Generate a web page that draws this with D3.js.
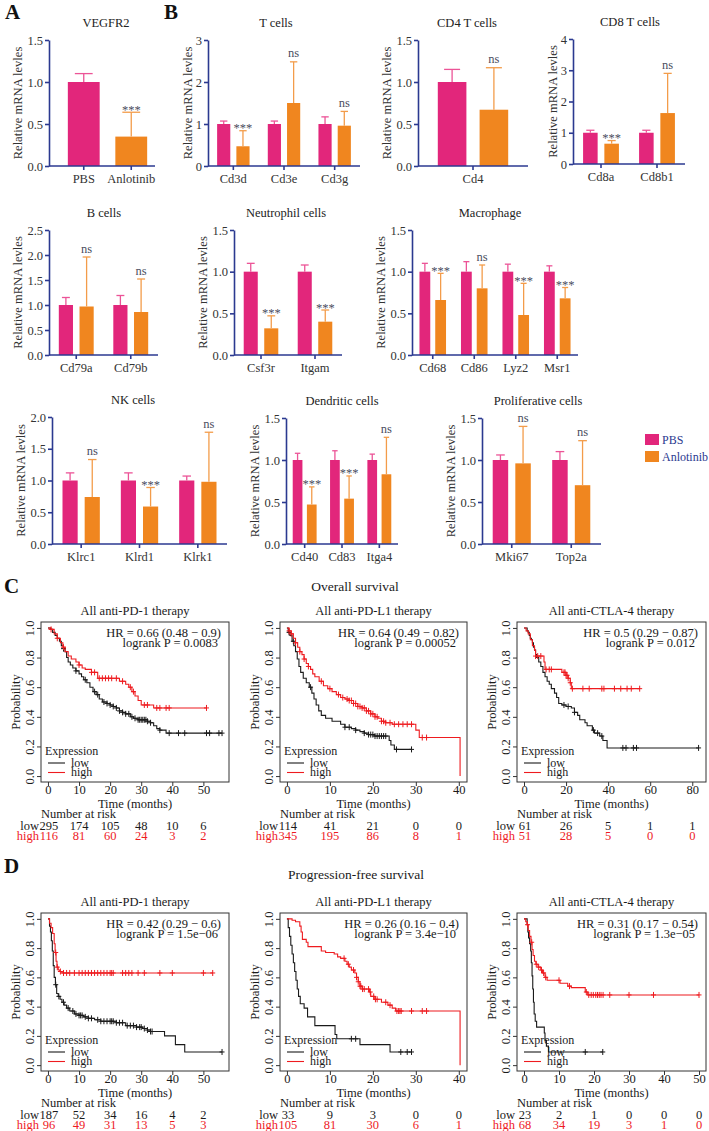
<!DOCTYPE html>
<html lang="en">
<head>
<meta charset="utf-8">
<title>Anlotinib: immune markers and ICI survival</title>
<script src="https://d3js.org/d3.v7.min.js"></script>
<style>
  body { margin: 0; background: #fff; }
  text { font-family: "Liberation Serif", "Times New Roman", serif; }
</style>
</head>
<body>
<div id="mainDiv"></div>
<script>
const width = 709
const height = 1131

const pink = '#e2267b'
const orange = '#f0861f'
const pinkErr = '#ec5497'
const orangeErr = '#f39c4a'
const navy = '#2b3990'
const kmRed = '#ee1b1f'

// ---------- qPCR bars (mean, upper error) ----------
const vegfrCats = ['PBS', 'Anlotinib']
const vegfrMean = [1.0, 0.35]
const vegfrErr = [1.1, 0.64]
const vegfrSig = ['', '***']

const tGenes = ['Cd3d', 'Cd3e', 'Cd3g']
const tPbs = [1, 1, 1]
const tPbsErr = [1.07, 1.07, 1.17]
const tAnl = [0.47, 1.5, 0.96]
const tAnlErr = [0.84, 2.48, 1.3]
const tSig = ['***', 'ns', 'ns']

const cd4Genes = ['Cd4']
const cd4Pbs = [1]
const cd4PbsErr = [1.15]
const cd4Anl = [0.67]
const cd4AnlErr = [1.17]
const cd4Sig = ['ns']

const cd8Genes = ['Cd8a', 'Cd8b1']
const cd8Pbs = [1, 1]
const cd8PbsErr = [1.08, 1.08]
const cd8Anl = [0.65, 1.63]
const cd8AnlErr = [0.75, 2.9]
const cd8Sig = ['***', 'ns']

const bGenes = ['Cd79a', 'Cd79b']
const bPbs = [1, 1]
const bPbsErr = [1.15, 1.19]
const bAnl = [0.97, 0.86]
const bAnlErr = [1.96, 1.52]
const bSig = ['ns', 'ns']

const neuGenes = ['Csf3r', 'Itgam']
const neuPbs = [1, 1]
const neuPbsErr = [1.1, 1.08]
const neuAnl = [0.32, 0.4]
const neuAnlErr = [0.47, 0.54]
const neuSig = ['***', '***']

const macGenes = ['Cd68', 'Cd86', 'Lyz2', 'Msr1']
const macPbs = [1, 1, 1, 1]
const macPbsErr = [1.1, 1.12, 1.09, 1.07]
const macAnl = [0.66, 0.8, 0.48, 0.68]
const macAnlErr = [0.98, 1.08, 0.86, 0.81]
const macSig = ['***', 'ns', '***', '***']

const nkGenes = ['Klrc1', 'Klrd1', 'Klrk1']
const nkPbs = [1, 1, 1]
const nkPbsErr = [1.12, 1.12, 1.07]
const nkAnl = [0.74, 0.59, 0.98]
const nkAnlErr = [1.33, 0.89, 1.76]
const nkSig = ['ns', '***', 'ns']

const dcGenes = ['Cd40', 'Cd83', 'Itga4']
const dcPbs = [1, 1, 1]
const dcPbsErr = [1.08, 1.11, 1.07]
const dcAnl = [0.47, 0.54, 0.83]
const dcAnlErr = [0.68, 0.81, 1.27]
const dcSig = ['***', '***', 'ns']

const proGenes = ['Mki67', 'Top2a']
const proPbs = [1, 1]
const proPbsErr = [1.06, 1.1]
const proAnl = [0.96, 0.7]
const proAnlErr = [1.4, 1.23]
const proSig = ['ns', 'ns']

// ---------- Kaplan-Meier steps [time, survival] and censor times ----------
const osPd1Low = [[0,1],[0.8,0.99],[1.5,0.97],[2.3,0.95],[3,0.93],[3.7,0.91],[4.3,0.88],[5,0.86],[5.5,0.84],[6,0.8],[6.5,0.77],[7.2,0.75],[8,0.73],[9,0.71],[10,0.69],[10.8,0.67],[11.5,0.65],[12.5,0.63],[13.5,0.6],[14.5,0.57],[15.5,0.55],[16.5,0.52],[17.5,0.5],[19,0.49],[20,0.48],[21,0.47],[22,0.46],[23,0.44],[24,0.43],[25,0.42],[26.5,0.4],[27.5,0.39],[29,0.38],[32,0.37],[33,0.36],[34,0.34],[35,0.32],[36,0.31],[38,0.29],[56,0.29]]
const osPd1LowCens = [5, 9, 12, 15, 16, 18, 19, 20, 21, 22, 23, 24, 25, 26, 27, 28, 29, 29.5, 30, 30.5, 31, 31.5, 32, 33, 36, 39, 42, 44, 51, 52, 55, 56]
const osPd1High = [[0,1],[1,0.99],[2,0.96],[3,0.93],[4,0.9],[4.8,0.87],[5.5,0.84],[6.5,0.81],[7.5,0.79],[9,0.77],[10,0.75],[11,0.73],[12,0.72],[14,0.7],[16,0.66],[23,0.64],[25,0.62],[26,0.6],[27,0.57],[28,0.54],[29,0.51],[30,0.48],[34,0.46],[51,0.46]]
const osPd1HighCens = [1, 3, 5, 10, 14, 15, 16.5, 17.5, 18.5, 19.5, 20.5, 22, 24, 26.5, 27.5, 31, 32, 35, 36, 38, 39, 51]

const osPdl1Low = [[0,1],[0.3,0.97],[0.7,0.95],[1.2,0.91],[1.6,0.88],[2,0.84],[2.4,0.79],[2.8,0.74],[3.2,0.7],[3.8,0.66],[4.5,0.63],[5.2,0.6],[5.8,0.56],[6.3,0.52],[6.8,0.48],[7.4,0.44],[8,0.41],[9,0.39],[10.5,0.37],[12.5,0.35],[13.5,0.33],[15,0.32],[16,0.31],[17,0.3],[18,0.29],[19,0.28],[20.3,0.27],[23.8,0.24],[24.2,0.21],[25,0.18],[29,0.18]]
const osPdl1LowCens = [0.5, 1.5, 5.5, 13.5, 14.5, 16, 18, 19, 19.5, 20, 20.5, 21, 21.5, 22, 22.5, 23, 25.5, 29]
const osPdl1High = [[0,1],[0.5,0.98],[1,0.96],[1.5,0.93],[2,0.9],[2.5,0.87],[3,0.84],[3.5,0.82],[4,0.79],[4.5,0.76],[5,0.74],[5.5,0.72],[6,0.69],[6.5,0.67],[7.5,0.64],[8.5,0.61],[9.5,0.59],[10.5,0.57],[11.5,0.55],[12.5,0.53],[13.5,0.52],[14.5,0.51],[15.5,0.49],[16.5,0.47],[17.5,0.46],[18.5,0.44],[19.5,0.42],[20.5,0.4],[21.2,0.39],[22,0.37],[23,0.36],[24.5,0.35],[30,0.31],[30.8,0.26],[40.3,0]]
const osPdl1HighCens = [0.5, 1, 2, 3, 4, 5, 8, 10, 12, 13, 14, 14.5, 15, 15.5, 16, 16.5, 17, 17.5, 18, 18.5, 19, 19.5, 20, 20.5, 21, 22, 22.5, 23, 24, 25, 26, 27, 28, 29, 31.5, 32.5]

const osCtlaLow = [[0,1],[1.5,0.98],[2,0.97],[2.5,0.95],[3,0.93],[3.5,0.92],[4,0.9],[4.5,0.87],[5,0.85],[5.5,0.82],[6,0.8],[7,0.77],[8,0.74],[9,0.7],[10,0.67],[11,0.64],[12,0.62],[13,0.59],[14.5,0.56],[15.5,0.53],[16.5,0.49],[18,0.48],[20,0.47],[22.5,0.46],[24,0.43],[25.5,0.41],[26.5,0.38],[29,0.36],[30,0.34],[32.5,0.31],[33.5,0.29],[36,0.27],[37.5,0.24],[39.5,0.19],[83,0.19]]
const osCtlaLowCens = [19, 21, 24, 33, 35, 37, 47, 48.5, 52, 53.5, 83]
const osCtlaHigh = [[0,1],[1,0.98],[2,0.96],[3,0.92],[4,0.88],[5,0.85],[5.5,0.81],[9.5,0.77],[10,0.72],[18,0.7],[20,0.68],[21,0.66],[22,0.63],[22.5,0.59],[55,0.59]]
const osCtlaHighCens = [5.5, 6.5, 8, 10.5, 12, 13, 19, 19.5, 20, 20.5, 21, 22, 23, 28, 31, 37, 38, 43, 46, 49, 51, 55]

const pfsPd1Low = [[0,1],[0.5,0.95],[0.8,0.91],[1.1,0.85],[1.4,0.78],[1.7,0.68],[2,0.6],[2.4,0.55],[2.8,0.49],[3.3,0.47],[3.9,0.45],[4.5,0.43],[5.2,0.41],[6,0.39],[7,0.37],[8.5,0.35],[10,0.34],[11.5,0.33],[13,0.32],[15,0.31],[17,0.3],[22,0.29],[25,0.27],[28.5,0.26],[30.5,0.25],[32,0.24],[33,0.23],[37.5,0.2],[41,0.14],[44,0.09],[56,0.09]]
const pfsPd1LowCens = [2.5, 3.5, 5, 6.5, 8, 9, 10, 10.5, 11, 12, 13, 14, 16, 17, 18, 19, 20, 20.5, 21, 22, 23, 24, 25.5, 26.5, 27.5, 28.5, 29.5, 30, 31, 32, 33, 33.5, 56]
const pfsPd1High = [[0,1],[0.5,0.97],[1,0.94],[1.5,0.9],[2,0.83],[2.3,0.77],[2.6,0.71],[2.9,0.67],[3.3,0.65],[3.8,0.64],[4.5,0.63],[53,0.63]]
const pfsPd1HighCens = [2.5, 3, 4, 5, 6, 7, 8.5, 10, 11, 12, 13, 14, 15, 16, 17, 18, 19, 20, 20.5, 21, 24, 25, 26, 27, 29, 31, 36, 40, 50, 53]

const pfsPdl1Low = [[0,1],[0.3,0.94],[0.6,0.88],[0.9,0.82],[1.2,0.76],[1.5,0.7],[1.8,0.64],[2.1,0.58],[2.4,0.52],[2.7,0.47],[3.1,0.42],[4,0.39],[4.8,0.33],[6.5,0.27],[11.2,0.21],[11.6,0.18],[17,0.14],[24,0.09],[29,0.09]]
const pfsPdl1LowCens = [15, 16, 26.5, 28, 29]
const pfsPdl1High = [[0,1],[1.2,0.99],[2,0.98],[3,0.95],[3.3,0.91],[3.6,0.86],[4.5,0.84],[4.9,0.81],[8,0.78],[9,0.77],[11,0.76],[11.8,0.74],[12.5,0.73],[13.5,0.71],[14,0.69],[14.5,0.67],[15,0.65],[15.8,0.63],[16.2,0.6],[16.6,0.57],[17,0.54],[17.5,0.52],[19.2,0.5],[19.5,0.47],[20.3,0.45],[22,0.43],[23.5,0.41],[24.5,0.39],[25.3,0.37],[40.3,0]]
const pfsPdl1HighCens = [13.3, 14.3, 15.5, 16.2, 16.6, 17, 17.2, 17.6, 18, 19, 19.4, 20.2, 20.6, 21, 23, 24, 25.6, 26, 26.3, 26.6, 29, 31.5, 32.5]

const pfsCtlaLow = [[0,1],[0.9,0.96],[1.1,0.91],[1.3,0.87],[1.6,0.83],[1.9,0.78],[2.1,0.7],[2.3,0.61],[2.5,0.52],[2.7,0.43],[2.9,0.35],[3.2,0.3],[3.6,0.26],[5.8,0.22],[6,0.17],[6.4,0.13],[7,0.09],[22.5,0.09]]
const pfsCtlaLowCens = [17.5, 22.5]
const pfsCtlaHigh = [[0,1],[0.5,0.98],[0.9,0.96],[1.2,0.92],[1.6,0.88],[2,0.84],[2.3,0.79],[2.6,0.75],[3,0.71],[3.4,0.69],[4,0.67],[4.8,0.65],[5.3,0.63],[6,0.6],[6.6,0.58],[10.3,0.56],[12.5,0.54],[13.5,0.53],[17.5,0.5],[18.2,0.48],[50,0.48]]
const pfsCtlaHighCens = [1, 2.2, 3.5, 4.2, 5, 5.6, 6.2, 10, 13, 17.8, 18.5, 19.2, 19.8, 20.5, 21, 21.5, 22, 22.6, 24.5, 30, 37, 50]

// numbers at risk
const osPd1RiskLow = [295, 174, 105, 48, 10, 6]
const osPd1RiskHigh = [116, 81, 60, 24, 3, 2]
const osPdl1RiskLow = [114, 41, 21, 0, 0]
const osPdl1RiskHigh = [345, 195, 86, 8, 1]
const osCtlaRiskLow = [61, 26, 5, 1, 1]
const osCtlaRiskHigh = [51, 28, 5, 0, 0]
const pfsPd1RiskLow = [187, 52, 34, 16, 4, 2]
const pfsPd1RiskHigh = [96, 49, 31, 13, 5, 3]
const pfsPdl1RiskLow = [33, 9, 3, 0, 0]
const pfsPdl1RiskHigh = [105, 81, 30, 6, 1]
const pfsCtlaRiskLow = [23, 2, 1, 0, 0, 0]
const pfsCtlaRiskHigh = [68, 34, 19, 3, 1, 0]

const ticks0to50 = [0, 10, 20, 30, 40, 50]
const ticks0to40 = [0, 10, 20, 30, 40]
const ticks0to80 = [0, 20, 40, 60, 80]

const svg = d3.select('#mainDiv').append('svg')
    .attr('width', width)
    .attr('height', height)

// ---------- bar panel ----------
function barPanel(p) {
    const y = d3.scaleLinear().domain([0, p.yMax]).range([p.bottom, p.top])
    const x = d3.scaleBand().domain(p.genes).range([p.x0 || p.ax, p.xEnd])
    const bw = x.bandwidth()
    const barW = bw * (p.single ? 0.67 : 0.26)
    const gap = bw * 0.12
    const g = svg.append('g')

    g.append('text')
        .attr('x', p.titleX).attr('y', p.top - 13)
        .attr('text-anchor', 'middle').attr('font-size', 12.5).attr('fill', '#222')
        .text(p.title)

    const rows = p.genes.flatMap((gn, i) => p.single
        ? [{ gn, mean: p.pbs[i], err: p.pbsErr[i], sig: p.sig[i], fill: i === 0 ? pink : orange, ec: i === 0 ? pinkErr : orangeErr, off: -barW / 2 }]
        : [{ gn, mean: p.pbs[i], err: p.pbsErr[i], sig: '', fill: pink, ec: pinkErr, off: -gap / 2 - barW },
           { gn, mean: p.anl[i], err: p.anlErr[i], sig: p.sig[i], fill: orange, ec: orangeErr, off: gap / 2 }])
    const cx = d => x(d.gn) + bw / 2 + d.off + barW / 2

    g.selectAll('rect.bar').data(rows).enter().append('rect')
        .attr('x', d => cx(d) - barW / 2)
        .attr('y', d => y(d.mean))
        .attr('width', barW)
        .attr('height', d => y(0) - y(d.mean))
        .attr('fill', d => d.fill)

    g.selectAll('line.err').data(rows).enter().append('line')
        .attr('x1', cx).attr('x2', cx)
        .attr('y1', d => y(d.mean)).attr('y2', d => y(d.err))
        .attr('stroke', d => d.ec).attr('stroke-width', 1.3)
    g.selectAll('line.cap').data(rows).enter().append('line')
        .attr('x1', d => cx(d) - barW * 0.28).attr('x2', d => cx(d) + barW * 0.28)
        .attr('y1', d => y(d.err)).attr('y2', d => y(d.err))
        .attr('stroke', d => d.ec).attr('stroke-width', 1.3)

    g.selectAll('text.sig').data(rows.filter(d => d.sig)).enter().append('text')
        .attr('x', cx)
        .attr('y', d => y(d.err) + (d.sig === '***' ? 1.5 : -4.5))
        .attr('text-anchor', 'middle').attr('font-size', 12.5).attr('fill', '#4a4d5e')
        .text(d => d.sig)

    const yAxis = g.append('g')
        .attr('transform', `translate(${p.ax},0)`)
        .call(d3.axisLeft(y).tickValues(p.ticks).tickFormat(d3.format(p.fmt)).tickSize(4).tickPadding(2).tickSizeOuter(0))
    const xAxis = g.append('g')
        .attr('transform', `translate(0,${y(0)})`)
        .call(d3.axisBottom(x).tickSize(4).tickPadding(4).tickSizeOuter(0))
    xAxis.select('.domain').remove()
    g.append('line')
        .attr('x1', p.ax).attr('x2', p.xEnd).attr('y1', y(0)).attr('y2', y(0))
        .attr('stroke', navy).attr('stroke-width', 1.6)
    for (const ax of [yAxis, xAxis]) {
        ax.selectAll('path, line').attr('stroke', navy).attr('stroke-width', 1.6)
        ax.selectAll('text').attr('font-size', 12.5).attr('fill', '#333')
            .attr('font-family', '"Liberation Serif", serif')
    }

    const maxLen = d3.max(p.ticks, t => d3.format(p.fmt)(t).length)
    const tx = p.ax - (5.5 * maxLen + 11)
    g.append('text')
        .attr('transform', `translate(${tx},${(p.top + p.bottom) / 2}) rotate(-90)`)
        .attr('text-anchor', 'middle').attr('font-size', 12.5).attr('fill', '#333')
        .text('Relative mRNA levles')
}

const rowTop = [40, 230, 418]
const rowBottom = [166, 355, 544]
const half = [0, 0.5, 1, 1.5]

barPanel({ title: 'VEGFR2', titleX: 106, genes: vegfrCats, pbs: vegfrMean, pbsErr: vegfrErr, sig: vegfrSig, single: true,
    ax: 49, x0: 60, xEnd: 155, top: rowTop[0], bottom: rowBottom[0], yMax: 1.5, ticks: half, fmt: '.1f' })
barPanel({ title: 'T cells', titleX: 276, genes: tGenes, pbs: tPbs, pbsErr: tPbsErr, anl: tAnl, anlErr: tAnlErr, sig: tSig,
    ax: 208, xEnd: 360, top: rowTop[0], bottom: rowBottom[0], yMax: 3, ticks: [0, 1, 2, 3], fmt: 'd' })
barPanel({ title: 'CD4 T cells', titleX: 467, genes: cd4Genes, pbs: cd4Pbs, pbsErr: cd4PbsErr, anl: cd4Anl, anlErr: cd4AnlErr, sig: cd4Sig,
    ax: 418, xEnd: 528, top: rowTop[0], bottom: rowBottom[0], yMax: 1.5, ticks: half, fmt: '.1f' })
barPanel({ title: 'CD8 T cells', titleX: 630, genes: cd8Genes, pbs: cd8Pbs, pbsErr: cd8PbsErr, anl: cd8Anl, anlErr: cd8AnlErr, sig: cd8Sig,
    ax: 573, xEnd: 685, top: rowTop[0] - 1, bottom: rowBottom[0] - 2, yMax: 4, ticks: [0, 1, 2, 3, 4], fmt: 'd' })

barPanel({ title: 'B cells', titleX: 104, genes: bGenes, pbs: bPbs, pbsErr: bPbsErr, anl: bAnl, anlErr: bAnlErr, sig: bSig,
    ax: 49, xEnd: 158, top: rowTop[1], bottom: rowBottom[1], yMax: 2.5, ticks: [0, 0.5, 1, 1.5, 2, 2.5], fmt: '.1f' })
barPanel({ title: 'Neutrophil cells', titleX: 286, genes: neuGenes, pbs: neuPbs, pbsErr: neuPbsErr, anl: neuAnl, anlErr: neuAnlErr, sig: neuSig,
    ax: 234, xEnd: 342, top: rowTop[1], bottom: rowBottom[1], yMax: 1.5, ticks: half, fmt: '.1f' })
barPanel({ title: 'Macrophage', titleX: 490, genes: macGenes, pbs: macPbs, pbsErr: macPbsErr, anl: macAnl, anlErr: macAnlErr, sig: macSig,
    ax: 412, xEnd: 578, top: rowTop[1], bottom: rowBottom[1], yMax: 1.5, ticks: half, fmt: '.1f' })

barPanel({ title: 'NK cells', titleX: 133, genes: nkGenes, pbs: nkPbs, pbsErr: nkPbsErr, anl: nkAnl, anlErr: nkAnlErr, sig: nkSig,
    ax: 52, xEnd: 227, top: rowTop[2] - 1, bottom: rowBottom[2], yMax: 2, ticks: [0, 0.5, 1, 1.5, 2], fmt: '.1f' })
barPanel({ title: 'Dendritic cells', titleX: 342, genes: dcGenes, pbs: dcPbs, pbsErr: dcPbsErr, anl: dcAnl, anlErr: dcAnlErr, sig: dcSig,
    ax: 286, xEnd: 398, top: rowTop[2], bottom: rowBottom[2], yMax: 1.5, ticks: half, fmt: '.1f' })
barPanel({ title: 'Proliferative cells', titleX: 538, genes: proGenes, pbs: proPbs, pbsErr: proPbsErr, anl: proAnl, anlErr: proAnlErr, sig: proSig,
    ax: 482, xEnd: 601, top: rowTop[2], bottom: rowBottom[2], yMax: 1.5, ticks: half, fmt: '.1f' })

// bar legend
const legendItems = [['PBS', pink], ['Anlotinib', orange]]
const legend = svg.append('g').attr('transform', 'translate(645,434)')
legend.selectAll('rect').data(legendItems).enter().append('rect')
    .attr('x', 0).attr('y', (d, i) => i * 17).attr('width', 14).attr('height', 11)
    .attr('fill', d => d[1])
legend.selectAll('text').data(legendItems).enter().append('text')
    .attr('x', 17).attr('y', (d, i) => i * 17 + 10)
    .attr('font-size', 12).attr('fill', '#2b3990')
    .text(d => d[0])

// ---------- Kaplan-Meier panel ----------
function kmPanel(o) {
    const x = d3.scaleLinear().domain([-0.04 * o.xMax, 1.04 * o.xMax]).range([o.left, o.right])
    const y = d3.scaleLinear().domain([-0.04, 1.04]).range([o.bottom, o.top])
    const g = svg.append('g')
    const ink = '#1a1a1a'

    g.append('text')
        .attr('x', (o.left + o.right) / 2).attr('y', o.top - 7)
        .attr('text-anchor', 'middle').attr('font-size', 12.5).attr('fill', ink)
        .text(o.title)

    const line = d3.line().x(d => x(d[0])).y(d => y(d[1])).curve(d3.curveStepAfter)
    const bis = d3.bisector(d => d[0]).right
    const curves = [[o.low, o.lowCens, ink], [o.high, o.highCens, kmRed]]
    curves.forEach(([steps, cens, col]) => {
        g.append('path').attr('d', line(steps))
            .attr('fill', 'none').attr('stroke', col).attr('stroke-width', 1.1)
        const marks = cens.map(c => [c, steps[Math.max(0, bis(steps, c) - 1)][1]])
        g.selectAll(null).data(marks).enter().append('path')
            .attr('d', d => `M${x(d[0])},${y(d[1]) - 3}v6M${x(d[0]) - 2.5},${y(d[1])}h5`)
            .attr('stroke', col).attr('stroke-width', 1)
    })

    g.append('rect')
        .attr('x', o.left).attr('y', o.top)
        .attr('width', o.right - o.left).attr('height', o.bottom - o.top)
        .attr('fill', 'none').attr('stroke', '#333').attr('stroke-width', 1)

    const xAxis = g.append('g').attr('transform', `translate(0,${o.bottom})`)
        .call(d3.axisBottom(x).tickValues(o.xTicks).tickFormat(d3.format('d')).tickSize(4).tickSizeOuter(0))
    xAxis.select('.domain').remove()
    xAxis.selectAll('text').attr('y', 12).attr('dy', 0)
    const yAxis = g.append('g').attr('transform', `translate(${o.left},0)`)
        .call(d3.axisLeft(y).tickValues([0, 0.2, 0.4, 0.6, 0.8, 1]).tickFormat(d3.format('.1f')).tickSize(4).tickSizeOuter(0))
    yAxis.select('.domain').remove()
    yAxis.selectAll('text')
        .attr('x', 0).attr('y', -7).attr('dy', 0)
        .attr('text-anchor', 'middle').attr('transform', 'rotate(-90)')
    for (const ax of [xAxis, yAxis]) {
        ax.selectAll('line').attr('stroke', '#333')
        ax.selectAll('text').attr('font-size', 12.5).attr('fill', ink)
            .attr('font-family', '"Liberation Serif", serif')
    }

    g.append('text')
        .attr('transform', `translate(${o.left - 21},${(y(0) + y(1)) / 2}) rotate(-90)`)
        .attr('text-anchor', 'middle').attr('font-size', 12.5).attr('fill', ink)
        .text('Probability')

    g.append('text').attr('x', o.right - 8).attr('y', o.top + 14.5)
        .attr('text-anchor', 'end').attr('font-size', 12.5).attr('fill', ink).text(o.hr)
    g.append('text').attr('x', o.right - 11).attr('y', o.top + 25)
        .attr('text-anchor', 'end').attr('font-size', 12.5).attr('fill', ink).text(o.p)

    // legend
    g.append('text').attr('x', o.left + 4).attr('y', o.bottom - 27.5)
        .attr('font-size', 12).attr('fill', ink).text('Expression')
    const leg = [['low', ink, o.bottom - 19], ['high', kmRed, o.bottom - 9.5]]
    leg.forEach(([lab, col, ly]) => {
        g.append('line').attr('x1', o.left + 7).attr('x2', o.left + 24)
            .attr('y1', ly).attr('y2', ly).attr('stroke', col).attr('stroke-width', 1.1)
        g.append('text').attr('x', o.left + 30).attr('y', ly + 3.5)
            .attr('font-size', 12).attr('fill', ink).text(lab)
    })

    g.append('text').attr('x', (o.left + o.right) / 2).attr('y', o.bottom + 25.5)
        .attr('text-anchor', 'middle').attr('font-size', 12.5).attr('fill', ink).text('Time (months)')
    g.append('text').attr('x', o.left).attr('y', o.bottom + 36)
        .attr('font-size', 12.5).attr('fill', ink).text('Number at risk')

    const risk = [['low', o.riskLow, ink, o.bottom + 47.5], ['high', o.riskHigh, kmRed, o.bottom + 57.5]]
    risk.forEach(([lab, vals, col, ry]) => {
        g.append('text').attr('x', x(0) - 9).attr('y', ry)
            .attr('text-anchor', 'end').attr('font-size', 12.5).attr('fill', col).text(lab)
        g.selectAll(null).data(vals).enter().append('text')
            .attr('x', (d, i) => x(o.xTicks[i]) + (i === 0 ? 1 : 0)).attr('y', ry)
            .attr('text-anchor', 'middle').attr('font-size', 12.5).attr('fill', col)
            .text(d => d)
    })
}

const cBox = { top: 622, bottom: 782 }
const dBox = { top: 913, bottom: 1071 }
const colLeft = { left: 41, right: 229 }
const colMid = { left: 280, right: 467 }
const colRight = { left: 517, right: 706 }

kmPanel({ ...cBox, ...colLeft, xMax: 56, xTicks: ticks0to50, title: 'All anti-PD-1 therapy',
    hr: 'HR = 0.66 (0.48 \u2212 0.9)', p: 'logrank P = 0.0083',
    low: osPd1Low, lowCens: osPd1LowCens, high: osPd1High, highCens: osPd1HighCens,
    riskLow: osPd1RiskLow, riskHigh: osPd1RiskHigh })
kmPanel({ ...cBox, ...colMid, xMax: 40.3, xTicks: ticks0to40, title: 'All anti-PD-L1 therapy',
    hr: 'HR = 0.64 (0.49 \u2212 0.82)', p: 'logrank P = 0.00052',
    low: osPdl1Low, lowCens: osPdl1LowCens, high: osPdl1High, highCens: osPdl1HighCens,
    riskLow: osPdl1RiskLow, riskHigh: osPdl1RiskHigh })
kmPanel({ ...cBox, ...colRight, xMax: 83.2, xTicks: ticks0to80, title: 'All anti-CTLA-4 therapy',
    hr: 'HR = 0.5 (0.29 \u2212 0.87)', p: 'logrank P = 0.012',
    low: osCtlaLow, lowCens: osCtlaLowCens, high: osCtlaHigh, highCens: osCtlaHighCens,
    riskLow: osCtlaRiskLow, riskHigh: osCtlaRiskHigh })

kmPanel({ ...dBox, ...colLeft, xMax: 56, xTicks: ticks0to50, title: 'All anti-PD-1 therapy',
    hr: 'HR = 0.42 (0.29 \u2212 0.6)', p: 'logrank P = 1.5e\u221206',
    low: pfsPd1Low, lowCens: pfsPd1LowCens, high: pfsPd1High, highCens: pfsPd1HighCens,
    riskLow: pfsPd1RiskLow, riskHigh: pfsPd1RiskHigh })
kmPanel({ ...dBox, ...colMid, xMax: 40.3, xTicks: ticks0to40, title: 'All anti-PD-L1 therapy',
    hr: 'HR = 0.26 (0.16 \u2212 0.4)', p: 'logrank P = 3.4e\u221210',
    low: pfsPdl1Low, lowCens: pfsPdl1LowCens, high: pfsPdl1High, highCens: pfsPdl1HighCens,
    riskLow: pfsPdl1RiskLow, riskHigh: pfsPdl1RiskHigh })
kmPanel({ ...dBox, ...colRight, xMax: 50, xTicks: ticks0to50, title: 'All anti-CTLA-4 therapy',
    hr: 'HR = 0.31 (0.17 \u2212 0.54)', p: 'logrank P = 1.3e\u221205',
    low: pfsCtlaLow, lowCens: pfsCtlaLowCens, high: pfsCtlaHigh, highCens: pfsCtlaHighCens,
    riskLow: pfsCtlaRiskLow, riskHigh: pfsCtlaRiskHigh })

// section headings and panel letters
svg.append('text').attr('x', 355).attr('y', 591).attr('text-anchor', 'middle')
    .attr('font-size', 13.5).attr('fill', '#1a1a1a').text('Overall survival')
svg.append('text').attr('x', 356).attr('y', 879).attr('text-anchor', 'middle')
    .attr('font-size', 13.5).attr('fill', '#1a1a1a').text('Progression-free survival')

const letters = [['A', 5, 19], ['B', 164, 19], ['C', 4, 593], ['D', 4, 873]]
svg.selectAll('text.letter').data(letters).enter().append('text')
    .attr('x', d => d[1]).attr('y', d => d[2])
    .attr('font-size', 21).attr('font-weight', 'bold').attr('fill', '#111')
    .text(d => d[0])
</script>
</body>
</html>
